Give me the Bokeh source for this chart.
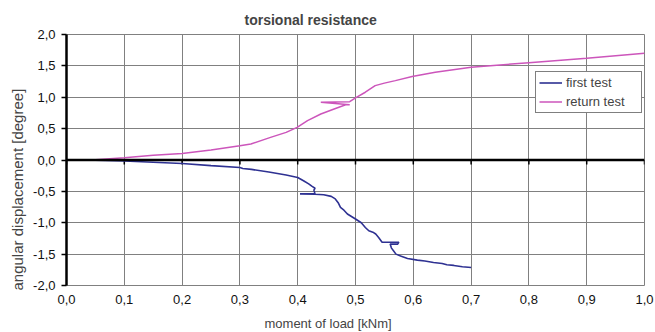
from bokeh.plotting import figure
from bokeh.models import (Span, Legend, LegendItem, CustomJSTickFormatter,
                          FixedTicker, Range1d, ColumnDataSource, Title)
from bokeh.embed import file_html
from bokeh.resources import INLINE

# ---- data ----
first_x = [0, 0.05, 0.1, 0.15, 0.2, 0.25, 0.3, 0.305, 0.32, 0.35, 0.38, 0.40, 0.41,
           0.419, 0.425, 0.43, 0.428, 0.43, 0.404, 0.43, 0.445, 0.458, 0.465, 0.47,
           0.474, 0.48, 0.486, 0.493, 0.5, 0.51, 0.517, 0.523, 0.53, 0.535, 0.54,
           0.546, 0.575, 0.573, 0.56, 0.562, 0.566, 0.57, 0.578, 0.59, 0.607, 0.62,
           0.635, 0.65, 0.658, 0.67, 0.685, 0.70]
first_y = [0, -0.005, -0.015, -0.035, -0.055, -0.09, -0.12, -0.135, -0.15, -0.19,
           -0.24, -0.28, -0.33, -0.38, -0.42, -0.45, -0.48, -0.54, -0.54, -0.545,
           -0.553, -0.58, -0.62, -0.68, -0.756, -0.8, -0.86, -0.9, -0.94, -1.0,
           -1.075, -1.128, -1.15, -1.18, -1.234, -1.31, -1.31, -1.34, -1.34, -1.4,
           -1.45, -1.5, -1.53, -1.57, -1.595, -1.61, -1.633, -1.65, -1.67, -1.68,
           -1.7, -1.713]

return_x = [0, 0.05, 0.1, 0.15, 0.2, 0.25, 0.3, 0.319, 0.353, 0.38, 0.399, 0.417,
            0.44, 0.463, 0.483, 0.49, 0.44, 0.49, 0.5, 0.517, 0.534, 0.55, 0.569,
            0.598, 0.638, 0.70, 0.75, 0.80, 0.85, 0.90, 0.95, 1.0]
return_y = [0, 0.005, 0.035, 0.075, 0.105, 0.16, 0.228, 0.255, 0.36, 0.44, 0.52,
            0.627, 0.733, 0.813, 0.88, 0.88, 0.92, 0.93, 0.99, 1.08, 1.185, 1.225,
            1.265, 1.33, 1.4, 1.478, 1.515, 1.55, 1.585, 1.62, 1.66, 1.70]

x_ticks = [0.0, 0.1, 0.2, 0.3, 0.4, 0.5, 0.6, 0.7, 0.8, 0.9, 1.0]
y_ticks = [-2.0, -1.5, -1.0, -0.5, 0.0, 0.5, 1.0, 1.5, 2.0]

series_names = ["first test", "return test"]
series_colors = ["#2E3192", "#CC55BB"]

FONT = "Liberation Sans"

p = figure(frame_width=578, frame_height=251, output_backend="svg",
           toolbar_location=None,
           x_range=Range1d(0, 1.0), y_range=Range1d(-2.0, 2.0),
           min_border_left=66, min_border_right=10, min_border_top=34,
           min_border_bottom=0)

p.title.text = "torsional resistance"
p.title.text_font = FONT
p.title.text_font_size = "14px"
p.title.text_font_style = "bold"
p.title.align = "left"
p.title.offset = 178
p.title.standoff = 14

p.outline_line_color = "#808080"
p.outline_line_width = 1

fmt = CustomJSTickFormatter(code="return tick.toFixed(1).replace('.', ',');")

xa = p.xaxis[0]
xa.ticker = FixedTicker(ticks=x_ticks)
xa.formatter = fmt
xa.axis_line_color = None
xa.major_tick_line_color = None
xa.major_tick_in = 0
xa.major_tick_out = 0
xa.minor_tick_line_color = None
xa.minor_tick_in = 0
xa.minor_tick_out = 0
xa.major_label_standoff = 9
xa.major_label_text_font = FONT
xa.major_label_text_font_size = "13px"
xa.major_label_text_color = "#111111"

ya = p.yaxis[0]
ya.ticker = FixedTicker(ticks=y_ticks)
ya.formatter = fmt
ya.axis_line_color = "black"
ya.axis_line_width = 2.5
ya.major_tick_line_color = "black"
ya.major_tick_line_width = 1.5
ya.major_tick_in = 0
ya.major_tick_out = 5
ya.minor_tick_line_color = None
ya.minor_tick_in = 0
ya.minor_tick_out = 0
ya.major_label_standoff = 6
ya.major_label_text_font = FONT
ya.major_label_text_font_size = "13px"
ya.major_label_text_color = "#111111"

xlabel = Title(text="moment of load [kNm]", align="left", offset=198, standoff=14,
               text_font=FONT, text_font_size="13px", text_font_style="normal")
p.add_layout(xlabel, "below")
ylabel = Title(text="angular displacement [degree]", align="left", offset=-5,
               standoff=10, text_font=FONT, text_font_size="15px",
               text_font_style="normal")
p.add_layout(ylabel, "left")

p.xgrid.ticker = FixedTicker(ticks=x_ticks)
p.ygrid.ticker = FixedTicker(ticks=y_ticks)
for g in (p.xgrid[0], p.ygrid[0]):
    g.grid_line_color = "#808080"
    g.grid_line_width = 1

# zero line acting as the x axis, with tick marks
p.add_layout(Span(location=0, dimension="width", line_color="black", line_width=2.5))
tick_src = ColumnDataSource(dict(x=x_ticks, y0=[0.0] * len(x_ticks),
                                 y1=[-0.07] * len(x_ticks)))
p.segment(x0="x", y0="y0", x1="x", y1="y1", source=tick_src,
          line_color="black", line_width=1.5)

r1 = p.line(first_x, first_y, line_color=series_colors[0], line_width=1.6)
r2 = p.line(return_x, return_y, line_color=series_colors[1], line_width=1.5)

legend = Legend(items=[LegendItem(label=series_names[0], renderers=[r1]),
                       LegendItem(label=series_names[1], renderers=[r2])],
                location=(469, 172), orientation="vertical",
                border_line_color="black", border_line_width=1,
                background_fill_color="white", background_fill_alpha=1.0,
                label_text_font=FONT, label_text_font_size="13px",
                glyph_width=23, glyph_height=13, label_height=13, label_width=72,
                spacing=4, padding=3, margin=0, label_standoff=4)
p.add_layout(legend)

open("out.html", "w").write(file_html(p, INLINE))
